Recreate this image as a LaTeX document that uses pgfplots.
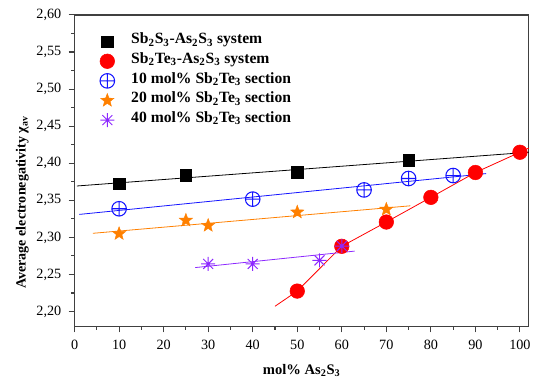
\documentclass[border=0pt]{standalone}
\usepackage{fontspec}
\setmainfont{Liberation Serif}
\usepackage{pgfplots}
\pgfplotsset{compat=1.18}
\definecolor{cblue}{RGB}{20,20,255}
\definecolor{corange}{RGB}{255,128,0}
\definecolor{cpurple}{RGB}{140,40,255}
\pgfdeclareplotmark{fstar}{%
  \pgfpathmoveto{\pgfpointpolar{90}{\pgfplotmarksize}}%
  \pgfpathlineto{\pgfpointpolar{126}{0.42\pgfplotmarksize}}%
  \pgfpathlineto{\pgfpointpolar{162}{\pgfplotmarksize}}%
  \pgfpathlineto{\pgfpointpolar{198}{0.42\pgfplotmarksize}}%
  \pgfpathlineto{\pgfpointpolar{234}{\pgfplotmarksize}}%
  \pgfpathlineto{\pgfpointpolar{270}{0.42\pgfplotmarksize}}%
  \pgfpathlineto{\pgfpointpolar{306}{\pgfplotmarksize}}%
  \pgfpathlineto{\pgfpointpolar{342}{0.42\pgfplotmarksize}}%
  \pgfpathlineto{\pgfpointpolar{18}{\pgfplotmarksize}}%
  \pgfpathlineto{\pgfpointpolar{54}{0.42\pgfplotmarksize}}%
  \pgfpathclose\pgfusepathqfillstroke}
\pgfdeclareplotmark{ast8}{%
  \pgfpathmoveto{\pgfpointpolar{0}{\pgfplotmarksize}}\pgfpathlineto{\pgfpointpolar{180}{\pgfplotmarksize}}%
  \pgfpathmoveto{\pgfpointpolar{90}{\pgfplotmarksize}}\pgfpathlineto{\pgfpointpolar{270}{\pgfplotmarksize}}%
  \pgfpathmoveto{\pgfpointpolar{45}{\pgfplotmarksize}}\pgfpathlineto{\pgfpointpolar{225}{\pgfplotmarksize}}%
  \pgfpathmoveto{\pgfpointpolar{135}{\pgfplotmarksize}}\pgfpathlineto{\pgfpointpolar{315}{\pgfplotmarksize}}%
  \pgfusepathqstroke}
\begin{document}
\begin{tikzpicture}
\begin{axis}[
  scale only axis,
  width=342.75pt, height=235pt,
  xmin=0, xmax=102, ymin=2.18, ymax=2.60,
  xtick={0,10,...,100}, ytick={2.20,2.25,...,2.60},
  minor x tick num=1, minor y tick num=1,
  xtick pos=left, ytick pos=left, tick align=outside,
  major tick length=4.5pt, minor tick length=2.5pt,
  axis line style={line width=0.9pt, black!75},
  every tick/.style={line width=0.8pt, black!75},
  tick label style={font=\fontsize{10.7}{12}\selectfont},
  /pgf/number format/assume math mode=true,
  yticklabel style={xshift=-2pt, /pgf/number format/.cd, use comma, fixed, fixed zerofill, precision=2},
  xticklabel style={yshift=-2.5pt, /pgf/number format/.cd, fixed, precision=0},
  xlabel={\textbf{mol\% As\textsubscript{2}S\textsubscript{3}}},
  ylabel={\textbf{Average electronegativity χ\textsubscript{av}}},
  label style={font=\fontsize{11}{12}\selectfont},
  xlabel style={yshift=-4pt},
  ylabel style={xshift=-24pt, yshift=-1pt, font=\fontsize{10.6}{12}\selectfont},
  legend style={draw=none, fill=none, at={(0.0467,0.955)}, anchor=north west,
    font=\fontsize{11.8}{12}\selectfont\bfseries,
    nodes={inner ysep=0pt, inner xsep=12.55pt, text height=9pt, text depth=5.8pt, anchor=west}},
  legend cell align=left,
  clip=true,
]
% fitted lines
\addplot[black, line width=0.6pt, forget plot] coordinates {(0.5,2.3693) (102,2.4148)};
\addplot[red, line width=0.6pt, forget plot] coordinates {(45,2.2071) (50,2.2276) (60,2.288) (70,2.3207) (80,2.354) (90,2.3875) (100,2.4148) (102,2.4205)};
\addplot[cblue, line width=0.6pt, forget plot] coordinates {(1.1,2.3310) (92.4,2.3860)};
\addplot[corange, line width=0.6pt, forget plot] coordinates {(4.1,2.3055) (75.4,2.3426)};
\addplot[cpurple, line width=0.6pt, forget plot] coordinates {(27.1,2.2593) (62.9,2.2815)};
% data
\addplot[only marks, mark=square*, mark size=4.3pt, black, mark options={fill=black}]
  coordinates {(10,2.372) (25,2.384) (50,2.388) (75,2.404)};
\addlegendentry{Sb\textsubscript{2}S\textsubscript{3}-As\textsubscript{2}S\textsubscript{3} system}
\addplot[only marks, mark=*, mark size=5.5pt, red, mark options={fill=red}]
  coordinates {(50,2.2276) (60,2.288) (70,2.3207) (80,2.354) (90,2.3875) (100,2.4148)};
\addlegendentry{Sb\textsubscript{2}Te\textsubscript{3}-As\textsubscript{2}S\textsubscript{3} system}
\addplot[only marks, mark=oplus, mark size=5.5pt, cblue, mark options={fill=none, line width=0.8pt}]
  coordinates {(10,2.3386) (40,2.3516) (65,2.364) (75,2.3794) (85,2.3834)};
\addlegendentry{10 mol\% Sb\textsubscript{2}Te\textsubscript{3} section}
\addplot[only marks, mark=fstar, mark size=5.3pt, corange, mark options={fill=corange, line width=0.3pt}]
  coordinates {(10,2.305) (25,2.323) (30,2.316) (50,2.334) (70,2.3378)};
\addlegendentry{20 mol\% Sb\textsubscript{2}Te\textsubscript{3} section}
\addplot[only marks, mark=ast8, mark size=5.3pt, cpurple, mark options={line width=0.7pt}]
  coordinates {(30,2.2642) (40,2.2642) (55,2.269) (60,2.2883)};
\addlegendentry{40 mol\% Sb\textsubscript{2}Te\textsubscript{3} section}
\end{axis}
\path ([shift={(-56.25pt,-39pt)}]current axis.south west) rectangle ([shift={(2.25pt,11.25pt)}]current axis.north east);
\end{tikzpicture}
\end{document}
